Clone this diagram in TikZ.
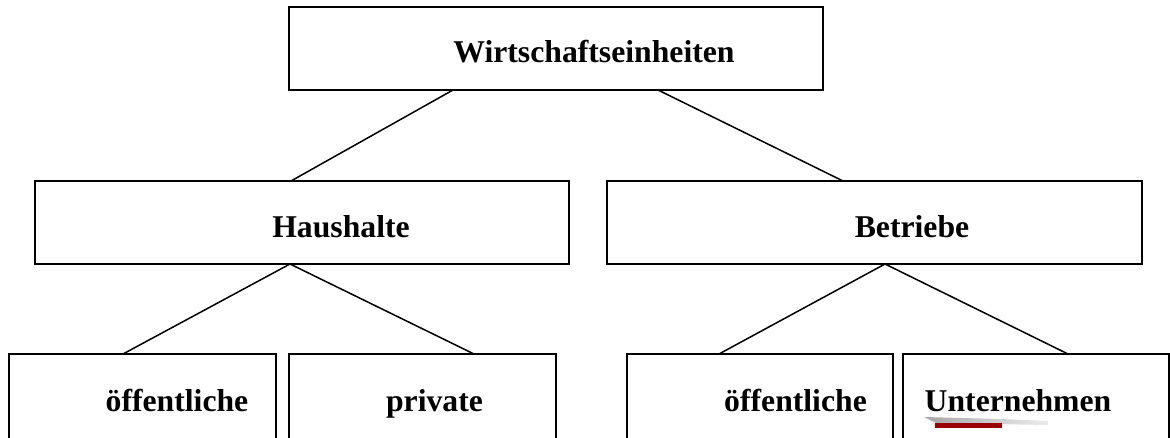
\documentclass[tikz,border=0pt]{standalone}
\usepackage{fontspec}
\setmainfont{Liberation Serif}
\usepackage{tikz}
\usetikzlibrary{positioning}
\tikzset{
  unit/.style={
    rectangle, draw=black, line width=1pt, inner sep=0pt, outer sep=0pt,
    anchor=north west, minimum height=41.5pt
  },
  wide/.style={unit, minimum width=267pt},
  narrow/.style={unit, minimum width=133.5pt, minimum height=60pt},
  lbl/.style={
    anchor=base, inner sep=0pt,
    font=\fontsize{15.85}{19}\selectfont\bfseries
  },
  link/.style={draw, line width=0.75pt}
}

\begin{document}
\begin{tikzpicture}[x=0.5pt, y=-0.5pt]
\useasboundingbox (0,0) rectangle (1170,438);
\clip (0,0) rectangle (1170,438);

\node[wide] (wirt) at (289,7) {};
\node[wide] (haus) at (35,181) {};
\node[wide, minimum width=267.5pt] (betr) at (607,181) {};
\node[narrow] (hoeff) at (9,354) {};
\node[narrow] (hpriv) at (289,354) {};
\node[narrow, minimum width=133pt] (boeff) at (627,354) {};
\node[narrow, minimum width=133pt] (bunt) at (903,354) {};

\node[lbl] (wirt-t) at (594,63) {Wirtschaftseinheiten};
\node[lbl] (haus-t) at (341,237) {Haushalte};
\node[lbl] (betr-t) at (912,237) {Betriebe};
\node[lbl] (hoeff-t) at (177,411) {öffentliche};
\node[lbl] (hpriv-t) at (434.5,411) {private};
\node[lbl] (boeff-t) at (795.5,411) {öffentliche};
\node[lbl] (bunt-t) at (1018,411) {Unternehmen};

\path[link] (453,0 |- wirt.south) -- (291,0 |- haus.north);
\path[link] (658,0 |- wirt.south) -- (843,0 |- betr.north);
\path[link] (290,0 |- haus.south) -- (123,0 |- hoeff.north);
\path[link] (290,0 |- haus.south) -- (474,0 |- hpriv.north);
\path[link] (885,0 |- betr.south) -- (719,0 |- boeff.north);
\path[link] (885,0 |- betr.south) -- (1068,0 |- bunt.north);

\shade[left color=gray!70, right color=gray!15]
  (924,417) -- (1000,419) -- (1048,421) -- (1048,425) -- (936,423) -- cycle;
\fill[red!60!black] (935,423) rectangle (1002,428);
\end{tikzpicture}
\end{document}
